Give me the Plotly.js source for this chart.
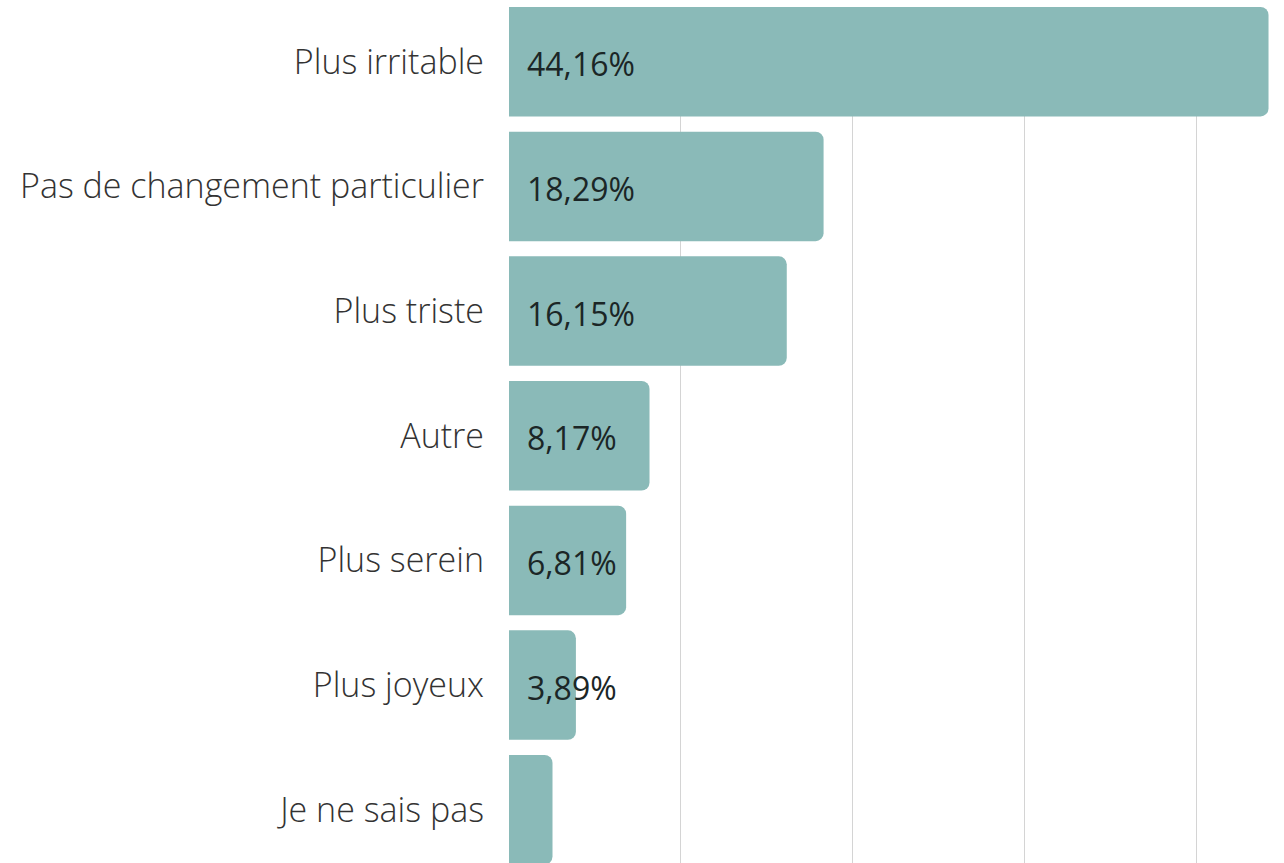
<!DOCTYPE html>
<html>
<head>
<meta charset="utf-8">
<script src="https://cdn.plot.ly/plotly-3.0.1.min.js"></script>
<style>html,body{margin:0;padding:0;background:#fff;}#chart{width:1284px;height:863px;}</style>
</head>
<body>
<div id="chart"></div>
<script>
const categories = ["Plus irritable", "Pas de changement particulier", "Plus triste", "Autre", "Plus serein", "Plus joyeux", "Je ne sais pas"];
const values = [44.16, 18.29, 16.15, 8.17, 6.81, 3.89, 2.53];
const valueLabels = ["44,16%", "18,29%", "16,15%", "8,17%", "6,81%", "3,89%", ""];

const barTrace = {
  type: "bar",
  orientation: "h",
  y: categories,
  x: values,
  marker: {color: "#8abab8", cornerradius: 8, line: {width: 0}},
  hoverinfo: "none",
  showlegend: false
};

const annotations = categories.map((c, i) => ({
  x: 0, y: c, xref: "x", yref: "y",
  text: valueLabels[i], showarrow: false,
  xanchor: "left", yanchor: "middle", xshift: 16, yshift: -2,
  font: {family: "Open Sans", size: 32, color: "#1b2626"}
}));

const layout = {
  width: 1284, height: 863,
  margin: {l: 509, r: 0, t: 7, b: 0, pad: 0},
  paper_bgcolor: "#fff", plot_bgcolor: "#fff",
  bargap: 0.122,
  xaxis: {
    range: [0, 45.06], dtick: 10, tick0: 0,
    showgrid: true, gridcolor: "#d4d4d4", gridwidth: 1,
    zeroline: false, showticklabels: false, showline: false, fixedrange: true
  },
  yaxis: {
    type: "category", range: [6.427, -0.439],
    showgrid: false, zeroline: false, showline: false, ticks: "",
    ticklabelstandoff: 24,
    tickfont: {family: "Open Sans", size: 34, color: "#333333", weight: 300},
    fixedrange: true
  },
  annotations: annotations,
  font: {family: "Open Sans"}
};

Plotly.newPlot("chart", [barTrace], layout, {displayModeBar: false, staticPlot: true});
</script>
</body>
</html>
